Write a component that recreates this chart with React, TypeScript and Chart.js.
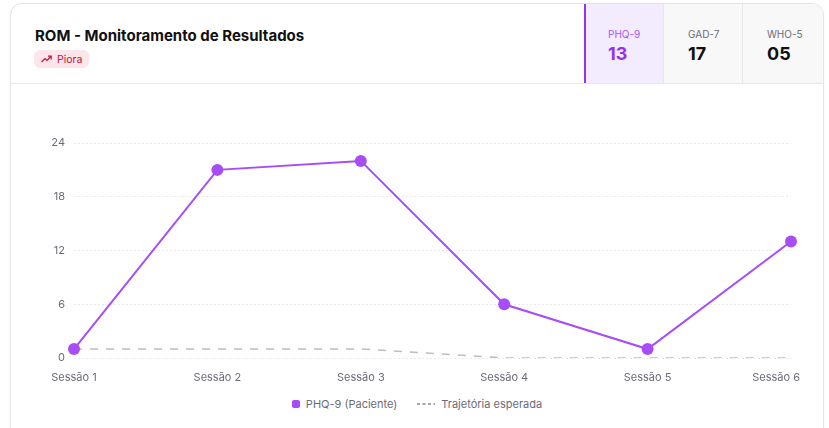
import React, { useEffect, useRef } from "react";
import { Chart, registerables } from "chart.js";

Chart.register(...registerables);

const sessions = ["Sessão 1", "Sessão 2", "Sessão 3", "Sessão 4", "Sessão 5", "Sessão 6"];
const phq9Values = [1, 21, 22, 6, 1, 13];
const expectedValues = [1, 1, 1, 0, 0, 0];
const yMin = 0;
const yMax = 24;
const yStep = 6;
const scaleNames = ["PHQ-9", "GAD-7", "WHO-5"];
const scaleScores = ["13", "17", "05"];
const seriesNames = ["PHQ-9 (Paciente)", "Trajetória esperada"];

const PURPLE = "#a74cf7";
const FONT = "Inter, 'Noto Sans', sans-serif";

const xLabelPlugin = {
  id: "xLabels",
  afterDraw(chart: any) {
    const { ctx, chartArea } = chart;
    const x = chart.scales.x;
    ctx.save();
    ctx.font = `11px ${FONT}`;
    ctx.fillStyle = "#6b6b78";
    ctx.textAlign = "center";
    ctx.textBaseline = "middle";
    const maxRight = chart.width - 8;
    sessions.forEach((lab, i) => {
      const w = ctx.measureText(lab).width;
      let cx = x.getPixelForValue(i);
      if (cx + w / 2 > maxRight) cx = maxRight - w / 2;
      ctx.fillText(lab, cx, chartArea.bottom + 20);
    });
    ctx.restore();
  },
};

function LineChart() {
  const ref = useRef<HTMLCanvasElement | null>(null);
  useEffect(() => {
    if (!ref.current) return;
    const chart = new Chart(ref.current, {
      type: "line",
      data: {
        labels: sessions,
        datasets: [
          {
            label: seriesNames[0],
            data: phq9Values,
            borderColor: PURPLE,
            backgroundColor: PURPLE,
            borderWidth: 2,
            pointRadius: 6,
            pointHoverRadius: 6,
            pointBorderWidth: 0,
            tension: 0,
          },
          {
            label: seriesNames[1],
            data: expectedValues,
            borderColor: "#bdbdc2",
            backgroundColor: "#bdbdc2",
            borderWidth: 1.5,
            borderDash: [8, 8],
            pointRadius: 0,
            tension: 0,
          },
        ],
      },
      options: {
        animation: false,
        responsive: false,
        maintainAspectRatio: false,
        layout: { padding: { top: 22, right: 17, left: 0, bottom: 0 } },
        plugins: { legend: { display: false }, tooltip: { enabled: false } },
        scales: {
          x: {
            ticks: { display: false },
            grid: { display: false },
            border: { display: false },
            afterFit(scale: any) {
              scale.height = 35;
            },
          },
          y: {
            min: yMin,
            max: yMax,
            ticks: {
              stepSize: yStep,
              padding: 9,
              color: "#6b6b78",
              font: { family: FONT, size: 11 },
            },
            grid: { color: "#e9e9ec", lineWidth: 1, drawTicks: false },
            border: { display: false, dash: [2, 2] },
            afterFit(scale: any) {
              scale.width = 50;
            },
          },
        },
      },
      plugins: [xLabelPlugin],
    });
    return () => chart.destroy();
  }, []);
  return <canvas ref={ref} width={784} height={272} style={{ width: 784, height: 272, display: "block" }} />;
}

function TrendIcon() {
  return (
    <svg width="11" height="8" viewBox="0 0 11 8" fill="none">
      <polyline points="0.5,7 4,3.5 6,5.5 10,1.5" stroke="#be123c" strokeWidth="1.2" fill="none" />
      <polyline points="7,1.2 10.2,1.2 10.2,4.4" stroke="#be123c" strokeWidth="1.2" fill="none" />
    </svg>
  );
}

export default function App() {
  return (
    <div
      style={{
        position: "absolute",
        left: 10,
        top: 3,
        width: 814,
        height: 450,
        boxSizing: "border-box",
        border: "1px solid #e4e4e7",
        borderRadius: 12,
        overflow: "hidden",
        background: "#fff",
        boxShadow: "0 1px 3px rgba(0,0,0,0.05)",
        fontFamily: FONT,
      }}
    >
      <div
        style={{
          position: "absolute",
          left: 0,
          top: 0,
          width: 812,
          height: 80,
          boxSizing: "border-box",
          borderBottom: "1px solid #e8e8eb",
        }}
      >
        <div
          style={{
            position: "absolute",
            left: 24,
            top: 22,
            fontSize: 15,
            lineHeight: "19px",
            fontWeight: 700,
            color: "#111",
            whiteSpace: "nowrap",
          }}
        >
          ROM - Monitoramento de Resultados
        </div>
        <div
          style={{
            position: "absolute",
            left: 23,
            top: 46,
            height: 18,
            padding: "0 7px",
            borderRadius: 6,
            background: "#fde5ea",
            color: "#be123c",
            fontSize: 10.5,
            display: "flex",
            alignItems: "center",
            gap: 5,
          }}
        >
          <TrendIcon />
          <span>Piora</span>
        </div>
        {scaleNames.map((name, i) => {
          const active = i === 0;
          const lefts = [573, 652, 731];
          const widths = [79, 79, 81];
          return (
            <div
              key={name}
              style={{
                position: "absolute",
                left: lefts[i],
                top: 0,
                width: widths[i],
                height: 79,
                boxSizing: "border-box",
                borderLeft: active ? "2px solid #9333ea" : "1px solid #e8e8eb",
                background: active ? "#f3ecfe" : "#f8f8f9",
              }}
            >
              <div
                style={{
                  position: "absolute",
                  left: active ? 22 : 24,
                  top: 24,
                  fontSize: 10,
                  lineHeight: "12px",
                  color: active ? "#a855f7" : "#6b6b73",
                }}
              >
                {name}
              </div>
              <div
                style={{
                  position: "absolute",
                  left: active ? 22 : 24,
                  top: 39,
                  fontSize: 18,
                  lineHeight: "22px",
                  fontWeight: 700,
                  color: active ? "#9333ea" : "#111",
                }}
              >
                {scaleScores[i]}
              </div>
            </div>
          );
        })}
      </div>
      <div style={{ position: "absolute", left: 13, top: 117 }}>
        <LineChart />
      </div>
      <div
        style={{
          position: "absolute",
          left: 0,
          top: 392,
          width: 812,
          height: 16,
          display: "flex",
          justifyContent: "center",
          alignItems: "center",
          gap: 20,
          fontSize: 11,
          color: "#6b6b78",
        }}
      >
        <div style={{ display: "flex", alignItems: "center", gap: 6 }}>
          <span style={{ width: 8, height: 8, borderRadius: 2, background: PURPLE, display: "inline-block" }} />
          <span>{seriesNames[0]}</span>
        </div>
        <div style={{ display: "flex", alignItems: "center", gap: 6 }}>
          <svg width="18" height="4">
            <line x1="0" y1="2" x2="18" y2="2" stroke="#8a8a92" strokeWidth="1.5" strokeDasharray="3 2.5" />
          </svg>
          <span>{seriesNames[1]}</span>
        </div>
      </div>
    </div>
  );
}
